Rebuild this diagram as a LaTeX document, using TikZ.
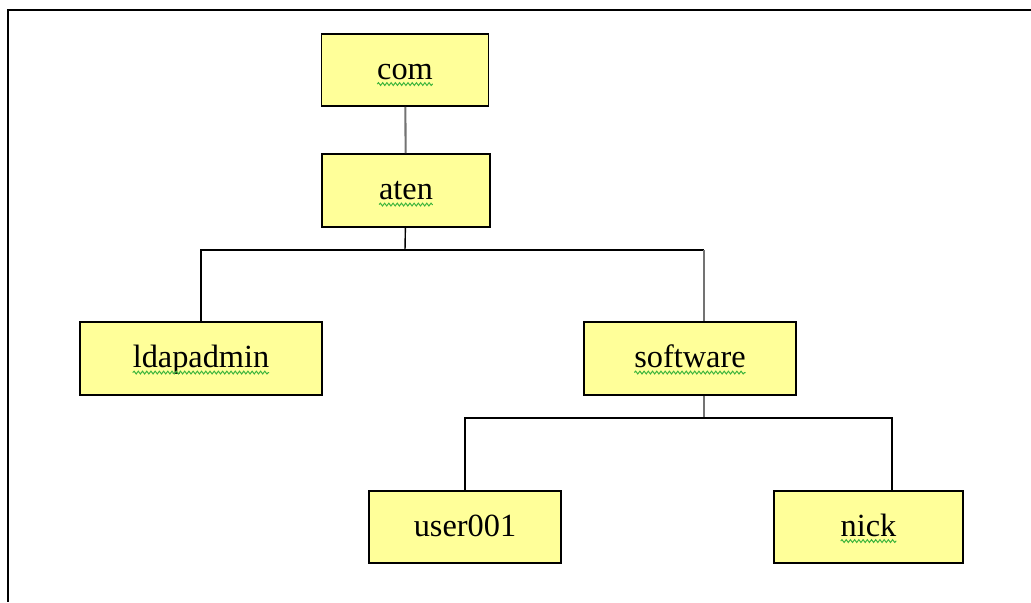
\documentclass[tikz,border=0pt]{standalone}
\usepackage{fontspec}
\setmainfont{Liberation Serif}
\usetikzlibrary{calc,decorations.pathmorphing}
\definecolor{boxyellow}{HTML}{FFFF99}
\definecolor{wavegreen}{HTML}{3CB43C}
\tikzset{
    box/.style={draw=black,line width=1.1pt,fill=boxyellow,inner sep=0pt,
        text height=13pt,text depth=2.2pt,
        font=\fontsize{18.4}{22}\selectfont},
    link/.style={draw=black,line width=0.8pt},
    greylink/.style={draw=black!55,line width=1.2pt},
    frame/.style={draw=black,line width=1.5pt},
    spellwave/.style={draw=wavegreen,line width=0.55pt,
        decorate,decoration={snake,segment length=2.4pt,amplitude=0.8pt}}
}
\begin{document}
\begin{tikzpicture}[x=0.02cm,y=-0.02cm]
                    \useasboundingbox (0,0) rectangle (1031,602);
                    \draw[frame] (1031,10)--(8,10)--(8,602);
                    \node[box,minimum width=3.34cm,minimum height=1.44cm] (com) at (405,70) {com};
                    \node[box,minimum width=3.36cm,minimum height=1.46cm] (aten) at (406,190.5) {aten};
                    \node[box,minimum width=4.84cm,minimum height=1.46cm] (ldapadmin) at (201,358.5) {ldapadmin};
                    \node[box,minimum width=4.24cm,minimum height=1.46cm] (software) at (690,358.5) {software};
                    \node[box,minimum width=3.84cm,minimum height=1.44cm] (user001) at (465,527) {user001};
                    \node[box,minimum width=3.78cm,minimum height=1.44cm] (nick) at (868.5,527) {nick};
                    \foreach \w in {com,aten,ldapadmin,software,nick}{
                        \coordinate (\w-r) at ($(\w.center)!-1!(\w.text)$);
                        \draw[spellwave] ([yshift=-2.6pt]\w.text)--([yshift=-2.6pt]\w.text -| \w-r);
                    }
                    \coordinate (AJ) at (405,250);
                    \coordinate (AR) at (704,250);
                    \coordinate (SJ) at (704,418);
                    \coordinate (NJ) at (892,418);
                    \draw[greylink] (com)--(aten);
                    \draw[link] (aten)--(AJ);
                    \draw[link] (ldapadmin.north)|-(AR);
                    \draw[greylink] (AR)--(software.north -| AR);
                    \draw[greylink] (software.south -| SJ)--(SJ);
                    \draw[link] (user001.north)|-(NJ)--(nick.north -| NJ);
                \end{tikzpicture}
\end{document}
